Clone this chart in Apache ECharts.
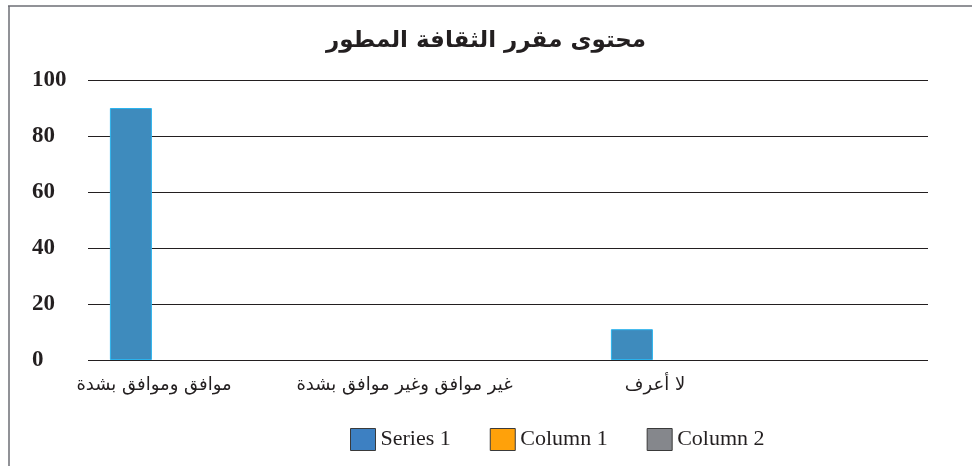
<!DOCTYPE html>
<html>
<head>
<meta charset="utf-8">
<script src="https://cdn.jsdelivr.net/npm/echarts@6/dist/echarts.min.js"></script>
<style>html,body{margin:0;padding:0;background:#fff}#c{width:972px;height:466px}</style>
</head>
<body>
<div id="c"></div>
<script>
var titleText = 'محتوى مقرر الثقافة المطور';
var categories = ['موافق وموافق بشدة', 'غير موافق وغير موافق بشدة', 'لا أعرف'];
var series1 = [90, 0, 11];
var column1 = [null, null, null];
var column2 = [null, null, null];
var seriesNames = ['Series 1', 'Column 1', 'Column 2'];
var yTicks = [0, 20, 40, 60, 80, 100];

var chart = echarts.init(document.getElementById('c'), null, {renderer: 'canvas'});
var ink = '#231f20';
var colors = ['#3e8bbd', '#ffa10a', '#85878c'];
var legendColors = ['#3d80c2', '#ffa10a', '#85878c'];

function barSeries(name, data, idx) {
  return {
    name: name, type: 'bar', xAxisIndex: 1, yAxisIndex: 1,
    data: data.map(function (v) {
      return {value: v, itemStyle: {borderWidth: v ? 1 : 0}};
    }),
    barWidth: 42, barGap: '-45%',
    itemStyle: {color: colors[idx], borderColor: idx === 0 ? '#2ab3ee' : colors[idx], borderWidth: 1},
    emphasis: {disabled: true}, animation: false
  };
}

chart.setOption({
  animation: false,
  color: legendColors,
  title: {
    text: titleText, left: 'center', top: 25,
    textStyle: {fontFamily: 'DejaVu Sans', fontWeight: 'bold', fontSize: 23, color: ink}
  },
  legend: {
    left: 345, top: 423, itemWidth: 25, itemHeight: 22, itemGap: 39, icon: 'rect',
    data: seriesNames.map(function (n, i) {
      return {name: n, itemStyle: {color: legendColors[i], borderColor: '#3a3a3a', borderWidth: 1}};
    }),
    textStyle: {fontFamily: 'Liberation Serif', fontSize: 22, color: ink, padding: [2, 0, 0, 0]}
  },
  graphic: [
    {type: 'line', shape: {x1: 8, y1: 6, x2: 972, y2: 6}, style: {stroke: '#6d6e75', lineWidth: 1.5}},
    {type: 'line', shape: {x1: 9, y1: 6, x2: 9, y2: 466}, style: {stroke: '#6d6e75', lineWidth: 1.5}}
  ],
  grid: [
    {left: 88, right: 44, top: 80, bottom: 106},
    {left: 28.75, right: 191.75, top: 80, bottom: 106}
  ],
  xAxis: [
    {type: 'value', gridIndex: 0, show: false, min: 0, max: 1},
    {type: 'category', gridIndex: 1, data: categories,
     axisLine: {show: false}, axisTick: {show: false}, splitLine: {show: false},
     axisLabel: {interval: 0, margin: 16, fontFamily: 'DejaVu Sans', fontSize: 18, color: ink}}
  ],
  yAxis: [
    {type: 'value', gridIndex: 0, min: 0, max: 100, interval: 20,
     axisLine: {show: false}, axisTick: {show: false},
     splitLine: {lineStyle: {color: ink, width: 1}},
     axisLabel: {align: 'left', margin: 56, fontFamily: 'Liberation Serif', fontWeight: 'bold', fontSize: 23, color: ink,
       formatter: function (v) { return yTicks.indexOf(v) >= 0 ? String(v) : ''; }}},
    {type: 'value', gridIndex: 1, min: 0, max: 100, show: false}
  ],
  series: [
    barSeries(seriesNames[0], series1, 0),
    barSeries(seriesNames[1], column1, 1),
    barSeries(seriesNames[2], column2, 2)
  ]
});
</script>
</body>
</html>
